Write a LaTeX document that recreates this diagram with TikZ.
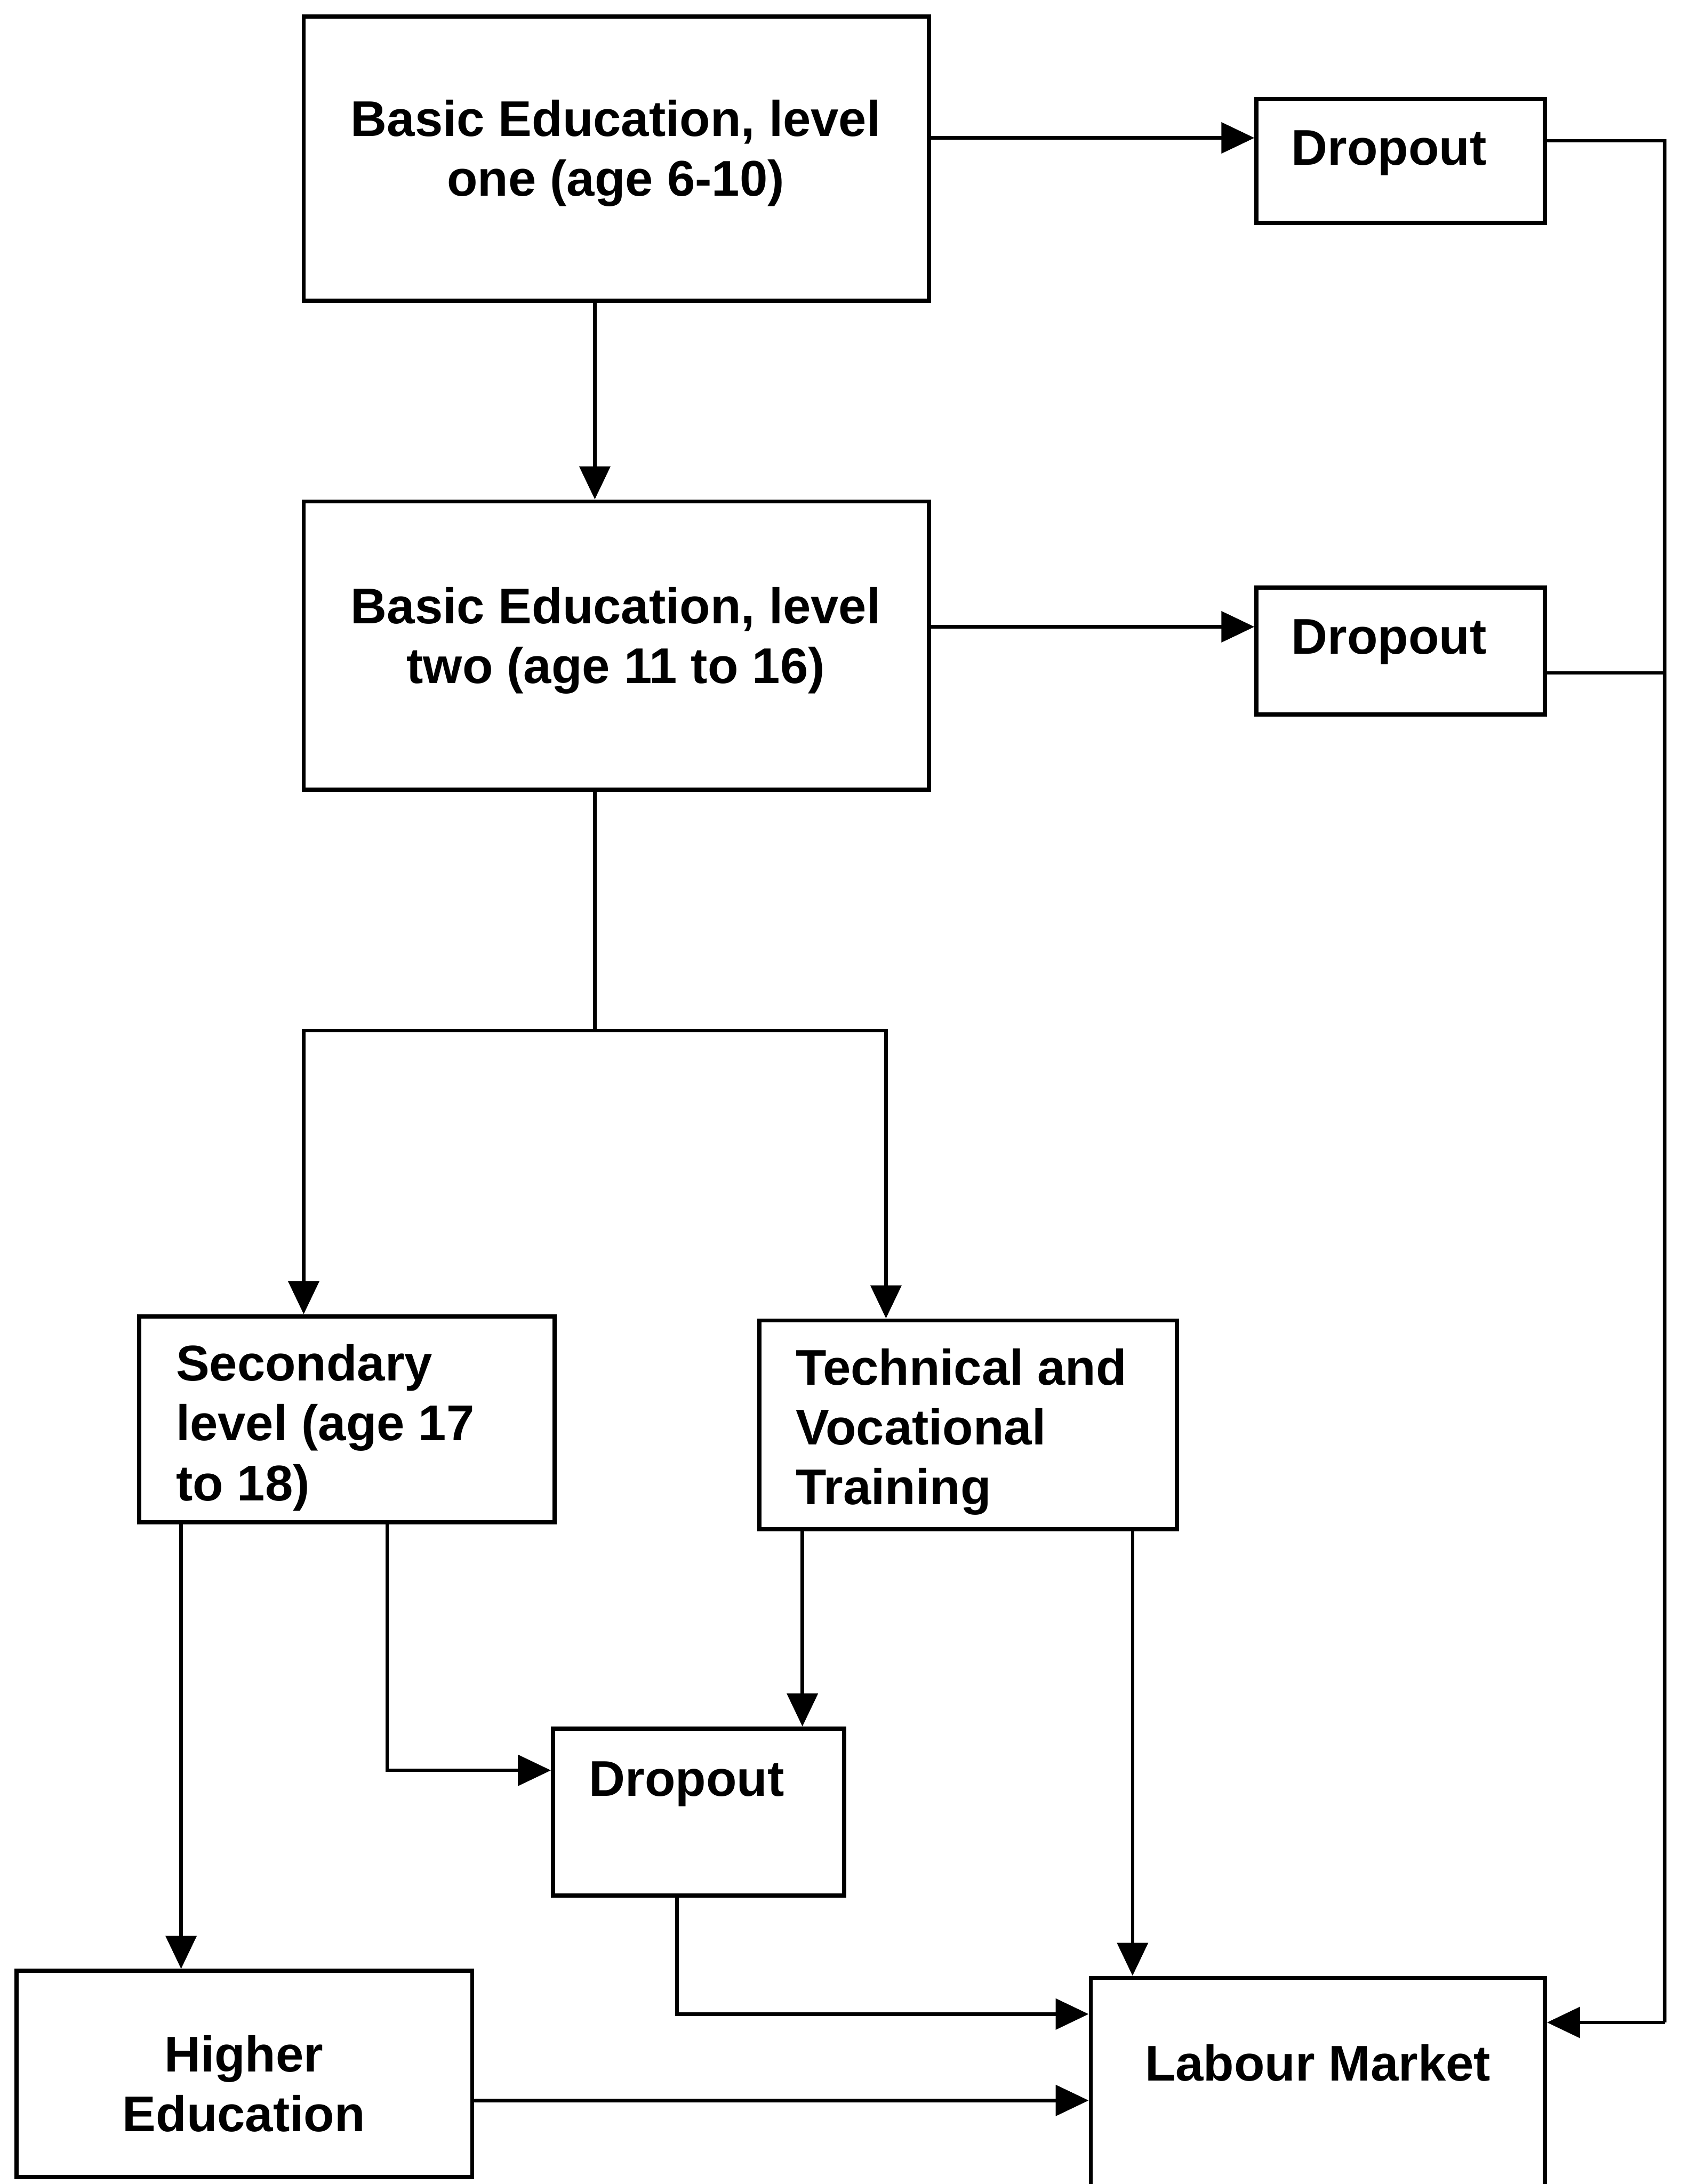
\documentclass[tikz,border=0pt]{standalone}
\usepackage{fontspec}
\setmainfont{Liberation Sans}
\usetikzlibrary{arrows.meta}
\begin{document}
\begin{tikzpicture}[x=0.02cm,y=-0.02cm,
  box/.style={draw,line width=1.7pt,inner sep=0pt},
  lbl/.style={font=\fontsize{20.5}{24.5}\selectfont\bfseries,inner sep=0pt},
  conn/.style={line width=1.4pt},
  arr/.style={conn,-{Triangle[length=13.5pt,width=12.5pt]}}]
\clip (0,0) rectangle (1208,1568);
\fill[white] (0,0) rectangle (1208,1568);

% boxes
\node[box,minimum width=449*0.02cm,minimum height=204*0.02cm] (b1) at (442.5,114) {};
\node[box,minimum width=207*0.02cm,minimum height=89*0.02cm] (d1) at (1005.5,115.5) {};
\node[box,minimum width=449*0.02cm,minimum height=207*0.02cm] (b2) at (442.5,463.5) {};
\node[box,minimum width=207*0.02cm,minimum height=91*0.02cm] (d2) at (1005.5,467.5) {};
\node[box,minimum width=298*0.02cm,minimum height=148*0.02cm] (sec) at (249,1019) {};
\node[box,minimum width=300*0.02cm,minimum height=150*0.02cm] (tech) at (695,1023) {};
\node[box,minimum width=209*0.02cm,minimum height=120*0.02cm] (d3) at (501.5,1301) {};
\node[box,minimum width=327*0.02cm,minimum height=148*0.02cm] (he) at (175.5,1489) {};
\node[box,minimum width=326*0.02cm,minimum height=170*0.02cm] (lm) at (946,1505) {};

% labels
\node[lbl,align=center] (t1) at (442,110) {Basic Education, level\\one (age 6-10)};
\node[lbl] (td1) at (997,110) {Dropout};
\node[lbl,align=center] (t2) at (442,460) {Basic Education, level\\two (age 11 to 16)};
\node[lbl] (td2) at (997,461) {Dropout};
\node[lbl,align=left,anchor=west] (tsec) at (126,1025) {Secondary\\level (age 17\\to 18)};
\node[lbl,align=left,anchor=west] (ttech) at (571,1028) {Technical and\\Vocational\\Training};
\node[lbl] (td3) at (493,1281) {Dropout};
\node[lbl,align=center] (the) at (175,1496) {Higher\\Education};
\node[lbl] (tlm) at (946,1481) {Labour Market};

% routing points
\coordinate (r1) at (0,99);
\coordinate (r2) at (0,450);
\coordinate (c1) at (427,0);
\coordinate (j) at (427,740);
\coordinate (jl) at (218,740);
\coordinate (jr) at (636,740);
\coordinate (bus1) at (1195,101);
\coordinate (bus2) at (1195,483);
\coordinate (busend) at (1195,1452);
\coordinate (s1) at (130,0);
\coordinate (s2) at (278,0);
\coordinate (s2b) at (278,1271);
\coordinate (v1) at (576,0);
\coordinate (v2) at (813,0);
\coordinate (p3) at (486,0);
\coordinate (p3b) at (486,1446);
\coordinate (h1) at (0,1508);

% connectors
\draw[arr] (b1.east |- r1) -- (d1.west |- r1);
\draw[arr] (b2.east |- r2) -- (d2.west |- r2);
\draw[arr] (b1.south -| c1) -- (b2.north -| c1);
\draw[conn] (d1.east |- bus1) -- (bus1) -- (busend);
\draw[conn] (d2.east |- bus2) -- (bus2);
\draw[arr] (busend) -- (lm.east |- busend);
\draw[conn] (b2.south -| c1) -- (j);
\draw[conn,line cap=rect] (jl) -- (jr);
\draw[arr] (jl) -- (sec.north -| jl);
\draw[arr] (jr) -- (tech.north -| jr);
\draw[arr] (sec.south -| s1) -- (he.north -| s1);
\draw[arr] (sec.south -| s2) -- (s2b) -- (d3.west |- s2b);
\draw[arr] (tech.south -| v1) -- (d3.north -| v1);
\draw[arr] (tech.south -| v2) -- (lm.north -| v2);
\draw[arr] (d3.south -| p3) -- (p3b) -- (lm.west |- p3b);
\draw[arr] (he.east |- h1) -- (lm.west |- h1);
\end{tikzpicture}
\end{document}
